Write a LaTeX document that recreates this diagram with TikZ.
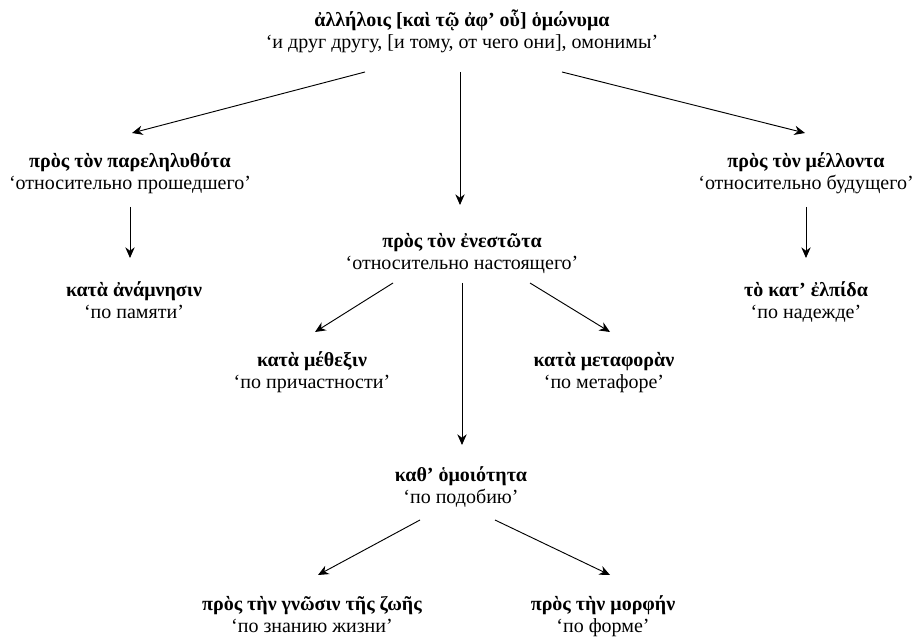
\documentclass[tikz,border=0pt]{standalone}
\usepackage{fontspec}
\setmainfont{Liberation Serif}
\usetikzlibrary{arrows.meta,calc}
\begin{document}
\begin{tikzpicture}[x=0.75pt,y=-0.75pt,
  lbl/.style={align=center,anchor=base,font=\fontsize{15}{16.5}\selectfont,inner sep=1pt},
  arr/.style={-{Stealth[length=8pt,width=7pt]},line width=0.7pt}]
\useasboundingbox (0,0) rectangle (915,638);
\node[lbl] (top) at (462,49) {\textbf{ἀλλήλοις [καὶ τῷ ἀφ’ οὗ] ὁμώνυμα}\\‘и друг другу, [и тому, от чего они], омонимы’};
\node[lbl] (left) at (130,190) {\textbf{πρὸς τὸν παρεληλυθότα}\\‘относительно прошедшего’};
\node[lbl] (right) at (806,190) {\textbf{πρὸς τὸν μέλλοντα}\\‘относительно будущего’};
\node[lbl] (center) at (462,270) {\textbf{πρὸς τὸν ἐνεστῶτα}\\‘относительно настоящего’};
\node[lbl] (lchild) at (134,319) {\textbf{κατὰ ἀνάμνησιν}\\‘по памяти’};
\node[lbl] (rchild) at (806,319) {\textbf{τὸ κατ’ ἐλπίδα}\\‘по надежде’};
\node[lbl] (methexin) at (312,388) {\textbf{κατὰ μέθεξιν}\\‘по причастности’};
\node[lbl] (metaphora) at (604,388) {\textbf{κατὰ μεταφορὰν}\\‘по метафоре’};
\node[lbl] (homoi) at (461,503) {\textbf{καθ’ ὁμοιότητα}\\‘по подобию’};
\node[lbl] (gnosin) at (312,632) {\textbf{πρὸς τὴν γνῶσιν τῆς ζωῆς}\\‘по знанию жизни’};
\node[lbl] (morphen) at (603,632) {\textbf{πρὸς τὴν μορφήν}\\‘по форме’};
\draw[arr] ($(top.base)+(-97,23)$) -- ($(left.base)+(2,-57)$);
\draw[arr] ($(top.base)+(-2,23)$) -- ($(center.base)+(-2,-65)$);
\draw[arr] ($(top.base)+(100,23)$) -- ($(right.base)+(-1,-57)$);
\draw[arr] ($(left.base)+(0,17)$) -- ($(lchild.base)+(-4,-61)$);
\draw[arr] ($(right.base)+(0,17)$) -- ($(rchild.base)+(0,-61)$);
\draw[arr] ($(center.base)+(-69,13)$) -- ($(methexin.base)+(3,-56)$);
\draw[arr] ($(center.base)+(68,13)$) -- ($(metaphora.base)+(6,-56)$);
\draw[arr] ($(center.base)+(0,13)$) -- ($(homoi.base)+(1,-58)$);
\draw[arr] ($(homoi.base)+(-41,17)$) -- ($(gnosin.base)+(6,-57)$);
\draw[arr] ($(homoi.base)+(34,17)$) -- ($(morphen.base)+(7,-57)$);
\end{tikzpicture}
\end{document}
